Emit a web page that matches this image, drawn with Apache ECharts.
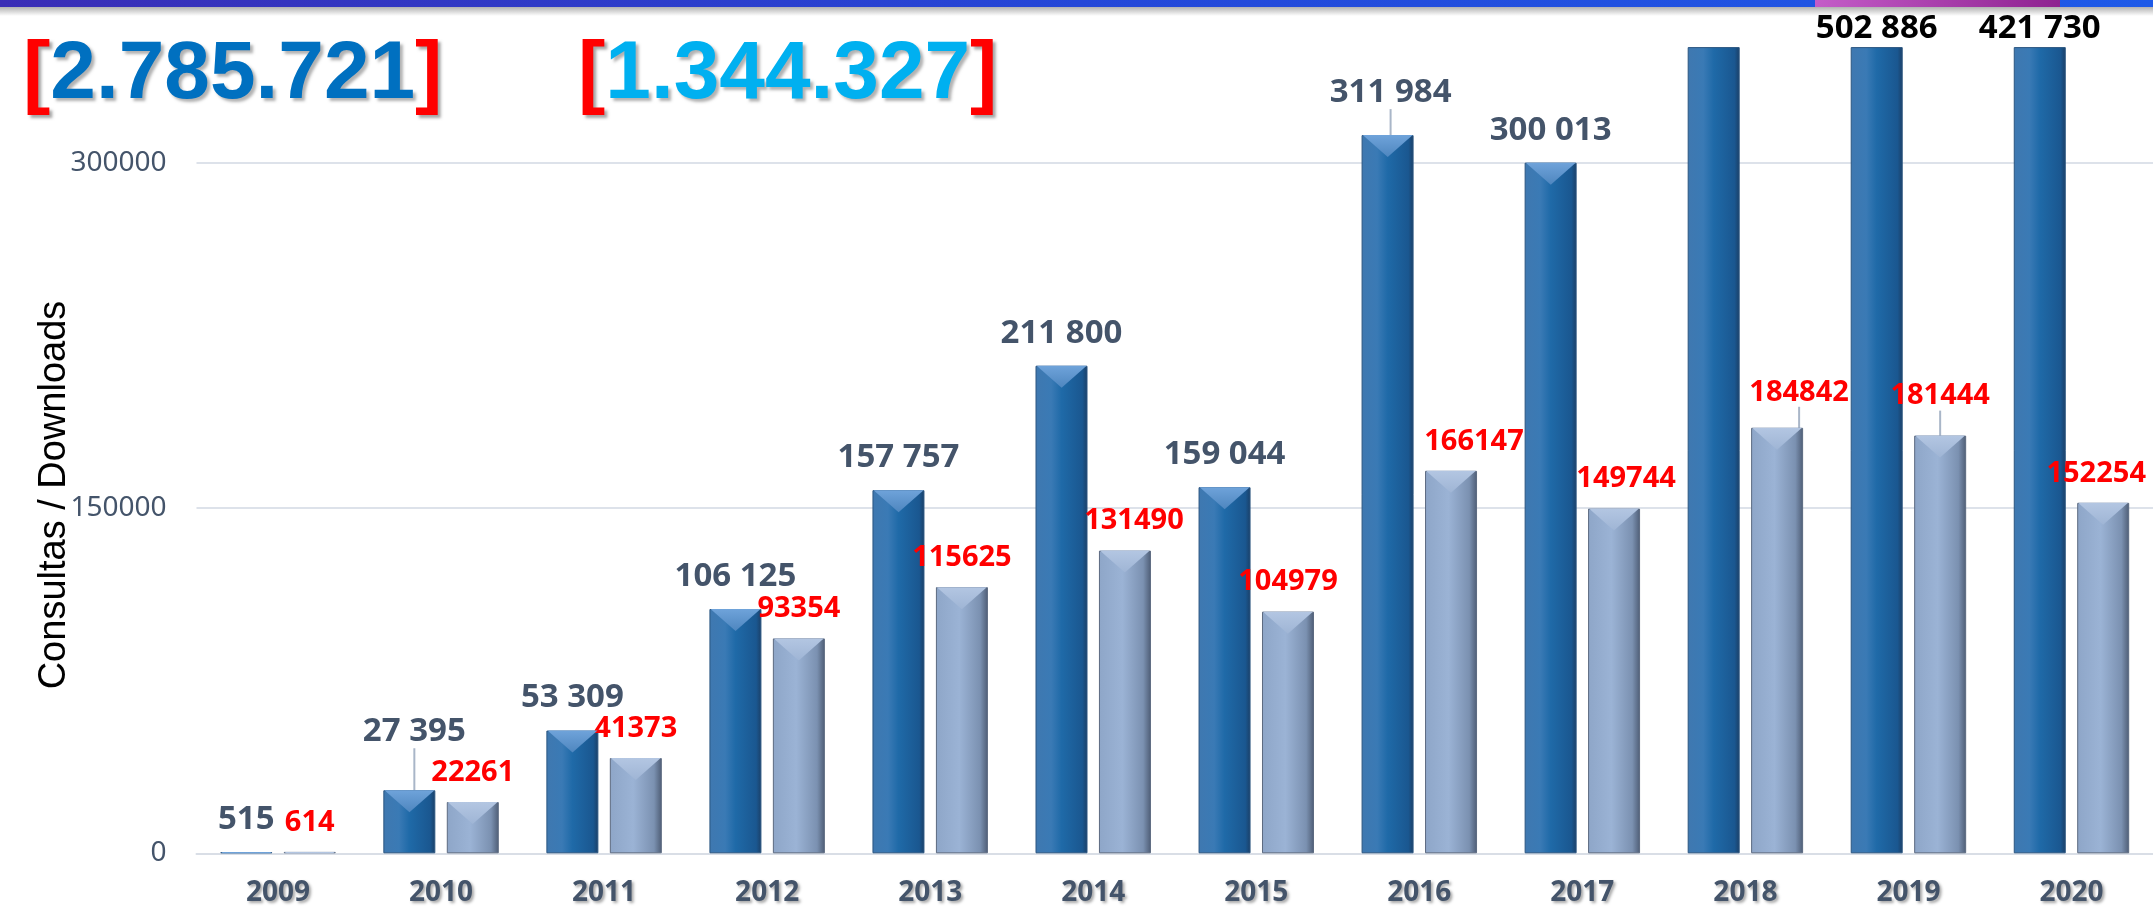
<!DOCTYPE html>
<html>
<head>
<meta charset="utf-8">
<title>Consultas / Downloads</title>
<script src="https://cdn.jsdelivr.net/npm/echarts@6/dist/echarts.min.js"></script>
<style>
html,body{margin:0;padding:0;background:#fff;}
#chart{width:2153px;height:911px;}
</style>
</head>
<body>
<div id="chart"></div>
<script>
// data
var years = ['2009','2010','2011','2012','2013','2014','2015','2016','2017','2018','2019','2020'];
var consultas = [515, 27395, 53309, 106125, 157757, 211800, 159044, 311984, 300013, 533163, 502886, 421730];
var downloads = [614, 22261, 41373, 93354, 115625, 131490, 104979, 166147, 149744, 184842, 181444, 152254];
var yTicks = [0, 150000, 300000];
var totalConsultas = '2.785.721';
var totalDownloads = '1.344.327';

var axisMax = 350000;
var hiddenLabels = ['2018'];

// labels that were dragged away from the bar on the slide
var blueNudge = {'2010': [5, -26], '2016': [3, -10]};
var redNudge = {'2014': [9, 0], '2016': [23, 0], '2017': [12, 0], '2018': [22, -6], '2019': [0, -10], '2020': [-7, 0]};
// which of them got a leader line
var blueLeader = ['2010', '2016'];
var redLeader = ['2018', '2019'];

function spaced(v) {
	return String(v).replace(/\B(?=(\d{3})+(?!\d))/g, ' ');
}

var blueData = [];
var redData = [];
for (var i = 0; i < years.length; i++) {
	var item = {value: consultas[i]};
	if (hiddenLabels.indexOf(years[i]) >= 0) {
		item.label = {show: false};
	} else if (consultas[i] > axisMax) {
		item.label = {color: '#000', distance: 2};
	}
	if (blueLeader.indexOf(years[i]) >= 0) item.labelLine = {show: true};
	blueData.push(item);

	var item2 = {value: downloads[i]};
	if (redLeader.indexOf(years[i]) >= 0) item2.labelLine = {show: true};
	redData.push(item2);
}

var blueFill = new echarts.graphic.LinearGradient(0, 0, 1, 0, [
	{offset: 0, color: '#3f78b0'},
	{offset: 0.3, color: '#3a7ab5'},
	{offset: 0.5, color: '#1f6aa8'},
	{offset: 0.9, color: '#1a5790'},
	{offset: 1, color: '#1b3f66'}
]);
var grayFill = new echarts.graphic.LinearGradient(0, 0, 1, 0, [
	{offset: 0, color: '#8ea6c8'},
	{offset: 0.45, color: '#9bb3d5'},
	{offset: 0.85, color: '#7b91b1'},
	{offset: 1, color: '#4e5d75'}
]);

function nudge(table) {
	return function (p) {
		var n = table[years[p.dataIndex]];
		if (!n) return {};
		return {dx: n[0], dy: n[1]};
	};
}

var bracket = {color: '#ff0000', fontSize: 82, fontWeight: 'bold', fontFamily: 'Liberation Sans', lineHeight: 90,
	textShadowColor: 'rgba(0,0,0,0.35)', textShadowOffsetX: 3, textShadowOffsetY: 3, textShadowBlur: 3};

var chart = echarts.init(document.getElementById('chart'));
var option = {
	animation: false,
	backgroundColor: '#ffffff',
	title: [
		{
			text: '{r|[}{b|' + totalConsultas + '}{r|]}',
			left: 18, top: 25,
			textStyle: {
				rich: {
					r: bracket,
					b: {color: '#0070c0', fontSize: 82, fontWeight: 'bold', fontFamily: 'Liberation Sans', lineHeight: 90,
						textShadowColor: 'rgba(0,0,0,0.3)', textShadowOffsetX: 3, textShadowOffsetY: 3, textShadowBlur: 3}
				}
			}
		},
		{
			text: '{r|[}{b|' + totalDownloads + '}{r|]}',
			left: 573, top: 25,
			textStyle: {
				rich: {
					r: bracket,
					b: {color: '#00b0f0', fontSize: 82, fontWeight: 'bold', fontFamily: 'Liberation Sans', lineHeight: 90,
						textShadowColor: 'rgba(0,0,0,0.3)', textShadowOffsetX: 3, textShadowOffsetY: 3, textShadowBlur: 3}
				}
			}
		}
	],
	graphic: [
		{type: 'rect', left: 0, top: 0, z: 100, shape: {width: 2153, height: 7},
			style: {fill: new echarts.graphic.LinearGradient(0, 0, 1, 0, [
				{offset: 0, color: '#3a2db6'}, {offset: 0.5, color: '#2447d8'}, {offset: 1, color: '#1e5ae8'}])}},
		{type: 'rect', left: 1815, top: 0, z: 101, shape: {width: 245, height: 7},
			style: {fill: new echarts.graphic.LinearGradient(0, 0, 1, 0, [
				{offset: 0, color: '#c45cc8'}, {offset: 1, color: '#8e2290'}])}},
		{type: 'rect', left: 0, top: 7, z: 100, shape: {width: 2153, height: 9},
			style: {fill: new echarts.graphic.LinearGradient(0, 0, 0, 1, [
				{offset: 0, color: 'rgba(0,0,0,0.3)'}, {offset: 1, color: 'rgba(0,0,0,0)'}])}},
		{type: 'text', x: 55, y: 495, rotation: Math.PI / 2,
			style: {text: 'Consultas / Downloads', fill: '#000', fontSize: 38,
				fontFamily: '"Liberation Sans Narrow", "Liberation Sans", sans-serif',
				align: 'center', verticalAlign: 'middle'}}
	],
	grid: {left: 196.5, top: 47.6, width: 1967.5, height: 805.7, containLabel: false},
	xAxis: {
		type: 'category',
		data: years,
		axisLine: {lineStyle: {color: '#d9dee6', width: 2}},
		axisTick: {show: false},
		axisLabel: {
			margin: 26, color: '#44546a', fontSize: 28, fontWeight: 'bold', fontFamily: 'Noto Sans',
			textShadowColor: 'rgba(0,0,0,0.35)', textShadowOffsetX: 2, textShadowOffsetY: 2, textShadowBlur: 3
		}
	},
	yAxis: {
		type: 'value',
		min: yTicks[0], max: axisMax, interval: yTicks[1] - yTicks[0],
		axisLine: {show: false},
		axisTick: {show: false},
		axisLabel: {showMaxLabel: false, margin: 30, color: '#44546a', fontSize: 28, fontFamily: 'Noto Sans',
			formatter: function (v) { return String(v); }},
		splitLine: {showMaxLine: false, lineStyle: {color: '#dde2ea', width: 2}}
	},
	series: [
		{
			name: 'Consultas', type: 'bar', data: blueData,
			barWidth: 52, barGap: '22%',
			itemStyle: {color: blueFill, borderColor: '#2a5580', borderWidth: 1},
			label: {show: true, position: 'top', distance: 16, formatter: function (p) { return spaced(p.value); },
				color: '#44546a', fontSize: 33, fontWeight: 'bold', fontFamily: 'Noto Sans'},
			labelLine: {show: false, lineStyle: {color: '#a9b6c8', width: 2}},
			labelLayout: nudge(blueNudge)
		},
		{
			name: 'Downloads', type: 'bar', data: redData,
			barWidth: 52, barGap: '22%',
			itemStyle: {color: grayFill, borderColor: '#5c6a80', borderWidth: 1},
			label: {show: true, position: 'top', distance: 15,
				color: '#ff0000', fontSize: 29, fontWeight: 'bold', fontFamily: 'Noto Sans'},
			labelLine: {show: false, lineStyle: {color: '#a9b6c8', width: 2}},
			labelLayout: nudge(redNudge)
		},
		{
			// bevel on top of the blue bars
			type: 'pictorialBar', data: consultas, silent: true, z: 3,
			symbol: 'path://M0,0 L52,0 L26,22 Z', symbolSize: [50, 22],
			symbolPosition: 'end', symbolOffset: [-31.6, 0], clip: true,
			itemStyle: {color: new echarts.graphic.LinearGradient(0, 0, 0, 1, [
				{offset: 0, color: '#6fa3da'}, {offset: 1, color: '#4e86bf'}])}
		},
		{
			type: 'pictorialBar', data: downloads, silent: true, z: 3,
			symbol: 'path://M0,0 L52,0 L26,22 Z', symbolSize: [50, 22],
			symbolPosition: 'end', symbolOffset: [31.6, 0], clip: true,
			itemStyle: {color: new echarts.graphic.LinearGradient(0, 0, 0, 1, [
				{offset: 0, color: '#b3c6e2'}, {offset: 1, color: '#9fb5d5'}])}
		}
	]
};
chart.setOption(option);
window.onresize = chart.resize;
</script>
</body>
</html>
